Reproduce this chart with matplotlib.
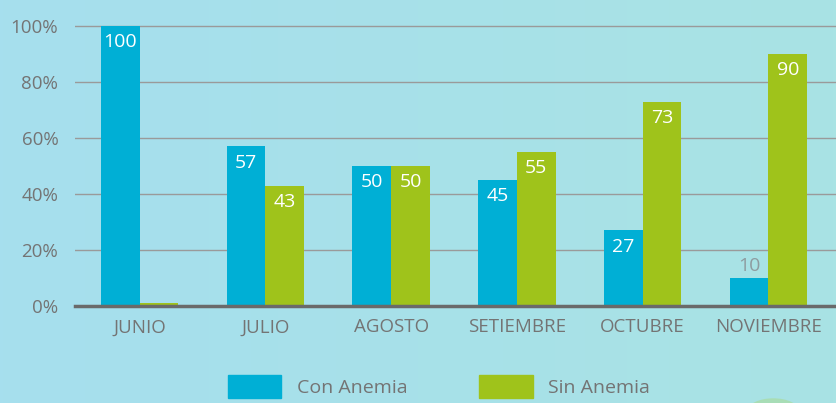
import numpy as np
from matplotlib import pyplot as plt
from matplotlib.patches import Patch, Circle
from matplotlib.colors import LinearSegmentedColormap

plt.rcParams['font.family'] = ['Open Sans', 'DejaVu Sans']

meses = ['JUNIO', 'JULIO', 'AGOSTO', 'SETIEMBRE', 'OCTUBRE', 'NOVIEMBRE']
con_anemia = [100, 57, 50, 45, 27, 10]
sin_anemia = [1, 43, 50, 55, 73, 90]
yticks = [0, 20, 40, 60, 80, 100]

c_con = '#00AFD5'
c_sin = '#9FC31B'
gris = '#747474'

fig = plt.figure(figsize=(8.36, 4.03), dpi=100)

# fondo con degradado suave
bg = fig.add_axes([0, 0, 1, 1], zorder=-10)
grad = np.linspace(0, 1, 256).reshape(1, -1)
cmap = LinearSegmentedColormap.from_list('bg', ['#A6DFEE', '#A9E3E4'])
bg.imshow(grad, aspect='auto', cmap=cmap, extent=[0, 1, 0, 1])
bg.add_patch(Circle((0.925, -0.02), 0.03, transform=bg.transAxes,
                    color='#A9DDB2', alpha=0.9))
bg.set_xlim(0, 1)
bg.set_ylim(0, 1)
bg.axis('off')

ax = fig.add_axes([0.0897, 0.2407, 0.9103, 0.7087])
ax.set_facecolor('none')

x = np.arange(len(meses))
w = 0.308
b1 = ax.bar(x - w / 2, con_anemia, w, color=c_con, zorder=3)
b2 = ax.bar(x + w / 2, sin_anemia, w, color=c_sin, zorder=3)

for rect, v in zip(b1, con_anemia):
    cx = rect.get_x() + rect.get_width() / 2
    if v < 15:
        ax.text(cx, v + 1.2, str(v), ha='center', va='bottom', color='#8E9CA0', fontsize=14)
    else:
        ax.text(cx, v - 2.6, str(v), ha='center', va='top', color='white', fontsize=14)
for rect, v in zip(b2, sin_anemia):
    if v < 5:
        continue
    cx = rect.get_x() + rect.get_width() / 2
    ax.text(cx, v - 2.6, str(v), ha='center', va='top', color='white', fontsize=14)

ax.set_ylim(0, 102)
ax.set_xlim(-0.513, 5.537)
ax.set_yticks(yticks)
ax.set_yticklabels([f'{t}%' for t in yticks])
ax.set_xticks(x)
ax.set_xticklabels(meses)
ax.tick_params(axis='both', length=0, colors=gris, labelsize=13.5)
ax.tick_params(axis='y', pad=12)
ax.tick_params(axis='x', pad=9)
ax.yaxis.grid(True, color='#9A9A9A', linewidth=1)
ax.set_axisbelow(True)
for s in ['top', 'right', 'left']:
    ax.spines[s].set_visible(False)
ax.spines['bottom'].set_color('#6A6A6A')
ax.spines['bottom'].set_linewidth(2.5)
ax.spines['bottom'].set_zorder(4)

handles = [Patch(color=c_con, label='Con Anemia'), Patch(color=c_sin, label='Sin Anemia')]
fig.legend(handles=handles, loc='center', bbox_to_anchor=(0.525, 0.041), ncol=2,
           frameon=False, fontsize=14, handlelength=2.75, handleheight=1.4,
           handletextpad=0.8, columnspacing=3.7, labelcolor=gris)

fig.savefig('out.png', dpi=100)
